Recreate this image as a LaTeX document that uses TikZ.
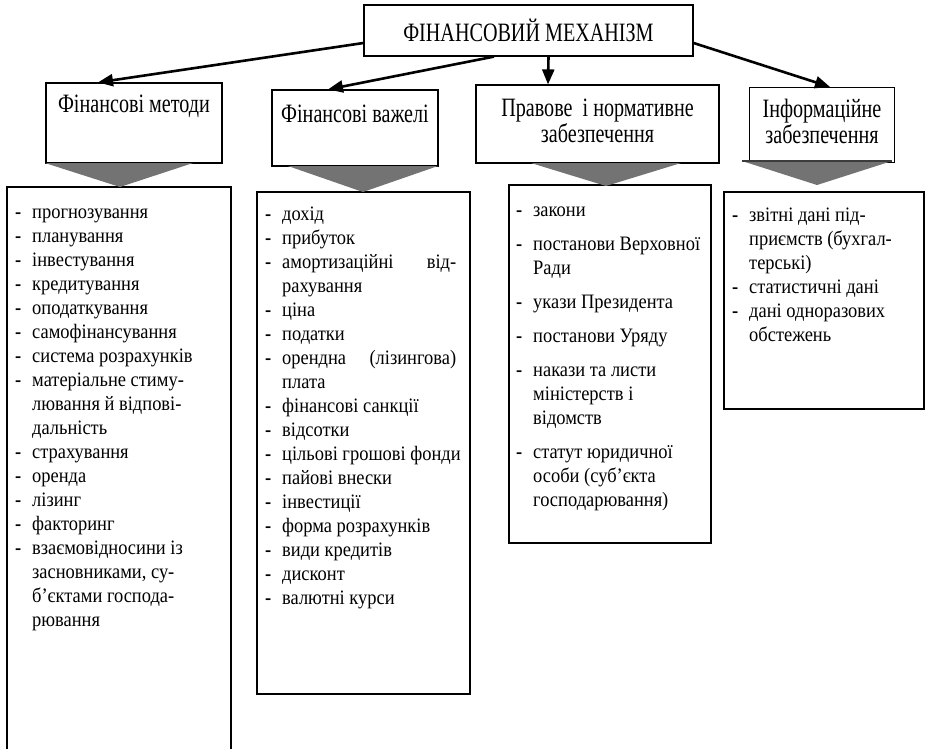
\documentclass[tikz,border=0pt]{standalone}
\usepackage{fontspec}
\setmainfont{Liberation Serif}
\newfontfamily\headfont[FakeStretch=0.76]{Liberation Serif}
\newfontfamily\listfont[FakeStretch=0.9]{Liberation Serif}
\usetikzlibrary{arrows.meta,calc}
\definecolor{wedgegray}{RGB}{115,115,115}
\definecolor{wedgeedge}{RGB}{60,60,60}
\newcommand\dashitem[1]{\makebox[17pt][l]{\textbf{-}}#1}
\newcommand\contline[1]{\hspace*{17pt}#1}

\begin{document}
\begin{tikzpicture}[x=1pt,y=-1pt,
  frame/.style={draw, line width=1.2pt, inner sep=0pt},
  headtext/.style={font=\headfont\fontsize{26.5}{26}\selectfont, align=center, inner sep=0pt},
  listtext/.style={font=\listfont\fontsize{20.5}{24}\selectfont, inner sep=0pt, anchor=base west},
  link/.style={line width=2.6pt, -{Triangle[length=15pt,width=12pt]}},
  wedge/.style={fill=wedgegray}]
\useasboundingbox (0,0) rectangle (928,748);
\fill[white] (0,0) rectangle (928,748);

% title
\node[frame, minimum width=329pt, minimum height=51pt,
      font=\headfont\fontsize{26.5}{26}\selectfont] (fm) at (528.5,30.5) {ФІНАНСОВИЙ МЕХАНІЗМ};

% header boxes
\node[frame, minimum width=176pt, minimum height=80pt] (h1) at (134,123) {};
\node[frame, minimum width=166pt, minimum height=76pt] (h2) at (355,128) {};
\node[frame, minimum width=243pt, minimum height=78pt] (h3) at (597.5,124) {};
\node[frame, minimum width=145pt, minimum height=75pt] (h4) at (822,125) {};

\node[headtext] (h1t) at (134,106) {Фінансові методи};
\node[headtext] (h2t) at (355,114) {Фінансові важелі};
\node[headtext] (h3t) at (597.5,121) {Правове\ \ і нормативне\\забезпечення};
\node[headtext] (h4t) at (822,121) {Інформаційне\\забезпечення};

% arrows
\draw[link] ([yshift=-12.5pt]fm.west) -- ([xshift=-36pt]h1.north);
\draw[link] ([xshift=-34.5pt]fm.south) -- ([xshift=-27pt]h2.north);
\draw[link] ([xshift=20pt]fm.south) -- ([xshift=-49.5pt]h3.north);
\draw[link] ([yshift=-12.5pt]fm.east) -- ([xshift=8pt]h4.north);

% list boxes
\node[frame, minimum width=224pt, minimum height=593pt] (l1) at (119,483.5) {};
\node[frame, minimum width=213pt, minimum height=502pt] (l2) at (363.5,443) {};
\node[frame, minimum width=202pt, minimum height=358pt] (l3) at (610,364) {};
\node[frame, minimum width=200pt, minimum height=217pt] (l4) at (824,300.5) {};

% grey wedges between headers and lists
\fill[wedge] (45,163) -- (193,163) -- (120,187) -- cycle;
\fill[wedge] (288,166) -- (438,166) -- (363,192) -- cycle;
\fill[wedge] (531,163) -- (681,163) -- (606,186) -- cycle;
\fill[wedge] (742,161) -- (892,161) -- (817,185) -- cycle;
\draw[wedgeedge, line width=2pt] (742,161) -- (892,161);

% list contents
\node[listtext] (l1t) at (15,218) {\parbox[t]{400pt}{%
\dashitem{прогнозування}\\
\dashitem{планування}\\
\dashitem{інвестування}\\
\dashitem{кредитування}\\
\dashitem{оподаткування}\\
\dashitem{самофінансування}\\
\dashitem{система розрахунків}\\
\dashitem{матеріальне стиму-}\\
\contline{лювання й відпові-}\\
\contline{дальність}\\
\dashitem{страхування}\\
\dashitem{оренда}\\
\dashitem{лізинг}\\
\dashitem{факторинг}\\
\dashitem{взаємовідносини із}\\
\contline{засновниками, су-}\\
\contline{б’єктами господа-}\\
\contline{рювання}}};

\node[listtext] (l2t) at (265,220) {\parbox[t]{400pt}{%
\dashitem{дохід}\\
\dashitem{прибуток}\\
\dashitem{\makebox[174pt][s]{амортизаційні\hfill від-}}\\
\contline{рахування}\\
\dashitem{ціна}\\
\dashitem{податки}\\
\dashitem{\makebox[174pt][s]{орендна\hfill (лізингова)}}\\
\contline{плата}\\
\dashitem{фінансові санкції}\\
\dashitem{відсотки}\\
\dashitem{цільові грошові фонди}\\
\dashitem{пайові внески}\\
\dashitem{інвестиції}\\
\dashitem{форма розрахунків}\\
\dashitem{види кредитів}\\
\dashitem{дисконт}\\
\dashitem{валютні курси}}};

\node[listtext] (l3t) at (516,216) {\parbox[t]{400pt}{%
\dashitem{закони}\\[10pt]
\dashitem{постанови Верховної}\\
\contline{Ради}\\[10pt]
\dashitem{укази Президента}\\[10pt]
\dashitem{постанови Уряду}\\[10pt]
\dashitem{накази та листи}\\
\contline{міністерств і}\\
\contline{відомств}\\[10pt]
\dashitem{статут юридичної}\\
\contline{особи (суб’єкта}\\
\contline{господарювання)}}};

\node[listtext] (l4t) at (732,221) {\parbox[t]{400pt}{%
\dashitem{звітні дані під-}\\
\contline{приємств (бухгал-}\\
\contline{терські)}\\
\dashitem{статистичні дані}\\
\dashitem{дані одноразових}\\
\contline{обстежень}}};
\end{tikzpicture}
\end{document}
